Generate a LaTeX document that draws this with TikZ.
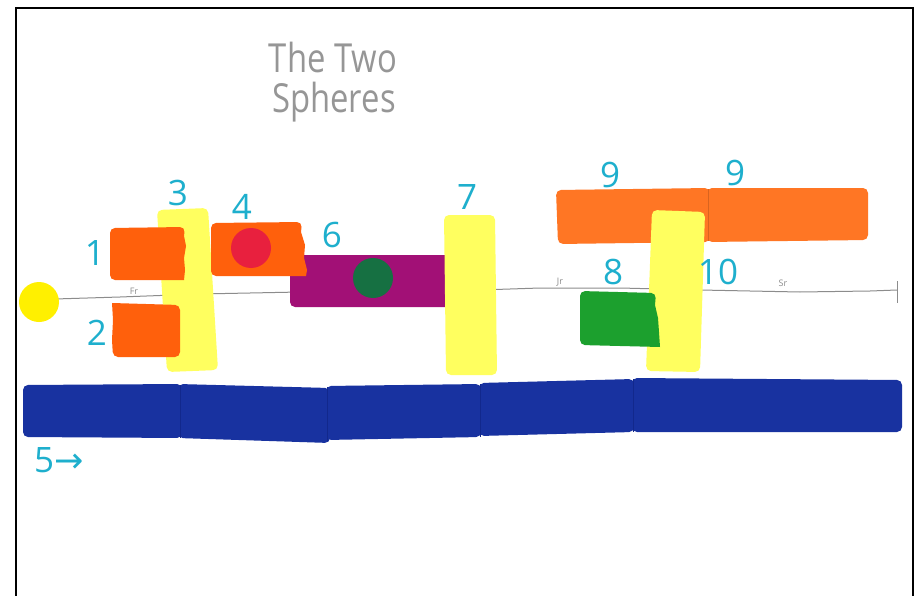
\documentclass[tikz,border=0pt]{standalone}
\usepackage{fontspec}
\setmainfont{Open Sans}
\newfontfamily\arrowfont{DejaVu Sans}
\definecolor{tapeorange}{RGB}{255,96,12}
\definecolor{lightorange}{RGB}{255,118,36}
\definecolor{tapeyellow}{RGB}{255,255,95}
\definecolor{sunyellow}{RGB}{255,240,0}
\definecolor{dotred}{RGB}{232,32,62}
\definecolor{tapemagenta}{RGB}{162,16,118}
\definecolor{dotgreen}{RGB}{22,112,66}
\definecolor{tapegreen}{RGB}{28,160,46}
\definecolor{tapeblue}{RGB}{24,50,160}
\definecolor{seamblue}{RGB}{18,40,140}
\definecolor{labelteal}{RGB}{30,175,205}
\definecolor{pencil}{RGB}{140,140,140}
\definecolor{titlegray}{RGB}{150,150,150}
\tikzset{
  tape/.style={rounded corners=5pt},
  numlabel/.style={text=labelteal, font=\fontsize{35}{35}\selectfont, inner sep=0pt},
  orbitlabel/.style={text=pencil, font=\fontsize{9}{9}\selectfont, inner sep=0pt},
  titletext/.style={text=titlegray, font=\fontsize{40}{40}\selectfont, inner sep=0pt, xscale=0.82},
}
\begin{document}
\begin{tikzpicture}[x=1pt,y=-1pt]
\useasboundingbox (0,0) rectangle (920,596);
\fill[white] (0,0) rectangle (920,596);

% title
\node[titletext] (t1) at (333,58) {The Two};
\node[titletext] (t2) at (334,102) {Spheres};

% orbit line
\draw[pencil, line width=1pt] (55,299) -- (120,297) -- (200,294) -- (300,292) -- (450,291) -- (540,288) -- (620,288) -- (700,290) -- (800,292) -- (870,291) -- (897,290);
\draw[pencil, line width=1pt] (897,281) -- (897,303);
\node[orbitlabel] (fr) at (134,291) {Fr};
\node[orbitlabel] (jr) at (560,282) {Jr};
\node[orbitlabel] (sr) at (783,283) {Sr};

% sun
\fill[sunyellow] (39,302) circle (20);

% yellow 3
\fill[tapeyellow, tape] (157,210) -- (208,208) -- (218,370) -- (167,372) -- cycle;
% orange 1 and 2
\fill[tapeorange, tape] (110,228) -- (185,227) [sharp corners] -- (184,236) -- (186,246) -- (184,258) -- (185,270) -- (184,280) [rounded corners=5pt] -- (110,280) -- cycle;
\fill[tapeorange, tape] (112,303) -- (180,305) -- (180,357) -- (113,357) [sharp corners] -- (112,340) -- (113,320) -- cycle;

% magenta 6 with green dot
\fill[tapemagenta, tape] (290,255) -- (450,255) -- (450,307) -- (290,307) -- cycle;
\fill[dotgreen] (373,278) circle (20);

% orange 4 with red dot
\fill[tapeorange, tape] (211,223) -- (302,222) [sharp corners] -- (301,232) -- (305,245) -- (304,258) -- (307,270) -- (306,276) [rounded corners=5pt] -- (211,276) -- cycle;
\fill[dotred] (251,248) circle (20);

% yellow 7
\fill[tapeyellow, tape] (444,215) -- (495,215) -- (497,375) -- (446,375) -- cycle;

% orange 9 (two pieces)
\fill[lightorange, tape] (556,190) -- (710,188) -- (710,242) -- (558,244) -- cycle;
\fill[lightorange, tape] (707,188) -- (868,188) -- (868,240) -- (707,242) -- cycle;
\draw[lightorange!85!black, line width=0.4pt] (708,189) -- (708,241);

% yellow 10
\fill[tapeyellow, tape] (652,210) -- (705,212) -- (700,372) -- (646,371) -- cycle;

% green 8
\fill[tapegreen, tape] (580,291) -- (656,293) [sharp corners] -- (655,305) -- (658,318) -- (659,332) -- (660,347) [rounded corners=5pt] -- (580,345) -- cycle;

% blue 5 (five pieces)
\fill[tapeblue, tape] (23,385) -- (182,384) -- (182,438) -- (23,437) -- cycle;
\fill[tapeblue, tape] (178,384) -- (330,388) -- (330,443) -- (178,438) -- cycle;
\fill[tapeblue, tape] (326,386) -- (481,384) -- (481,437) -- (326,440) -- cycle;
\fill[tapeblue, tape] (479,383) -- (634,379) -- (634,432) -- (479,436) -- cycle;
\fill[tapeblue, tape] (632,378) -- (902,380) -- (902,432) -- (632,432) -- cycle;
\draw[seamblue, line width=0.6pt] (180,385) -- (180,438) (327,387) -- (327,441) (480,384) -- (480,437) (633,379) -- (633,432);

% labels
\node[numlabel] (l1) at (95,253) {1};
\node[numlabel] (l2) at (97,333) {2};
\node[numlabel] (l3) at (178,193) {3};
\node[numlabel] (l4) at (242,207) {4};
\node[numlabel] (l6) at (332,235) {6};
\node[numlabel] (l7) at (467,197) {7};
\node[numlabel] (l8) at (613,272) {8};
\node[numlabel] (l9a) at (610,175) {9};
\node[numlabel] (l9b) at (735,173) {9};
\node[numlabel] (l10) at (718,272) {10};
\node[numlabel, anchor=west] (l5) at (34,460) {5\arrowfont→};

% frame
\draw[black, line width=1.6pt] (16,596) -- (16,8) -- (913,8) -- (913,596);
\end{tikzpicture}
\end{document}
